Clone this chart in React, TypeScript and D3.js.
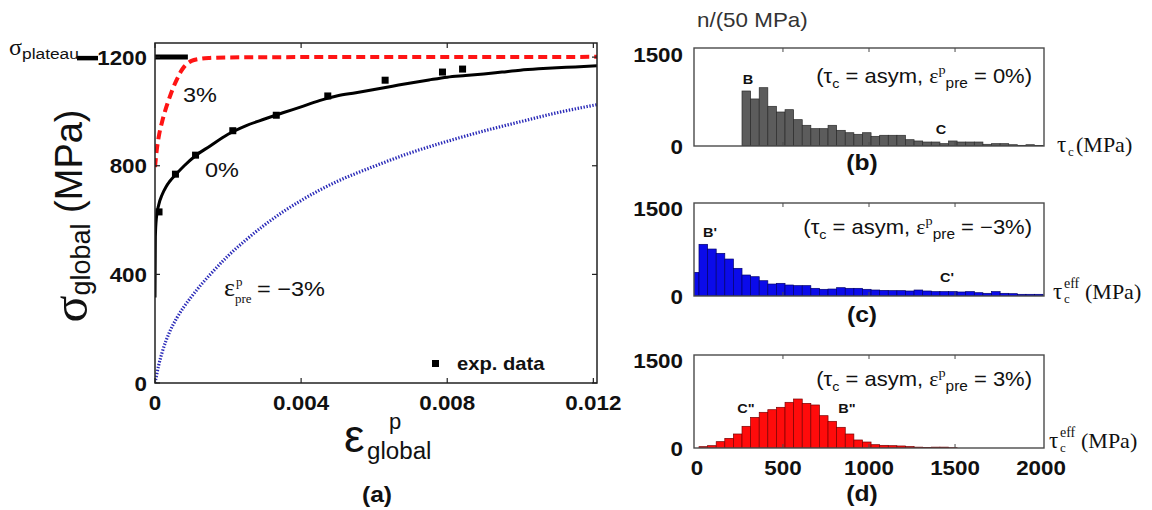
import React from 'react';
import * as d3 from 'd3';

// ---------------- Data: panel (a) ----------------
// stress-strain curves [plastic strain, stress in MPa]
const curvePre0: [number, number][] = [
  [0, 315], [0.00001, 540], [0.00004, 610], [0.0001, 655], [0.0002, 695], [0.0003, 722],
  [0.0004, 742], [0.0006, 772], [0.0008, 800], [0.0011, 836], [0.0015, 872], [0.002, 916],
  [0.0025, 948], [0.003, 972], [0.0035, 995], [0.004, 1017], [0.0045, 1040], [0.005, 1058],
  [0.0055, 1069], [0.006, 1081], [0.0065, 1093], [0.007, 1105], [0.0075, 1116], [0.008, 1126],
  [0.0085, 1132], [0.009, 1138], [0.0095, 1145], [0.01, 1152], [0.0105, 1157], [0.011, 1161],
  [0.0115, 1164], [0.0121, 1168],
];
const curvePrePlus3: [number, number][] = [
  [0, 795], [0.00005, 860], [0.0001, 905], [0.0002, 965], [0.0003, 1012], [0.0004, 1052],
  [0.0005, 1088], [0.0006, 1118], [0.0007, 1145], [0.0008, 1165], [0.0009, 1178], [0.001, 1186],
  [0.0012, 1193], [0.0015, 1197], [0.002, 1199], [0.004, 1200], [0.008, 1200], [0.0121, 1201],
];
const curvePreMinus3: [number, number][] = [
  [0, 0], [0.0001, 65], [0.0002, 115], [0.0004, 188], [0.0006, 240], [0.0008, 282], [0.001, 318],
  [0.0012, 352], [0.0015, 398], [0.002, 468], [0.0025, 528], [0.003, 582], [0.0035, 630],
  [0.004, 672], [0.0045, 710], [0.005, 743], [0.006, 798], [0.007, 848], [0.008, 890],
  [0.009, 928], [0.01, 962], [0.011, 995], [0.0121, 1025],
];
const plateauSegment: [number, number][] = [[0, 1200], [0.0009, 1200]];
const expData: [number, number][] = [
  [0.00011, 630], [0.00056, 769], [0.00111, 839], [0.00213, 929], [0.00332, 986],
  [0.00473, 1057], [0.0063, 1115], [0.00787, 1145], [0.00842, 1156],
];
const aXTicks = [0, 0.004, 0.008, 0.012];
const aXTickLabels = ['0', '0.004', '0.008', '0.012'];
const aYTicks = [0, 400, 800, 1200];

// ---------------- Data: histograms (b)-(d) ----------------
const BIN_WIDTH = 50; // MPa
const histBFirstEdge = 262;
const histBCounts = [
  898, 768, 952, 648, 555, 593, 430, 338, 283, 283, 338, 256, 217, 191, 217, 158, 175, 175,
  175, 103, 82, 65, 65, 38, 82, 65, 65, 65, 28, 38, 38, 21, 11, 21, 8,
];
const histCFirstEdge = -38;
const histCCounts = [
  407, 889, 808, 734, 636, 476, 361, 332, 263, 206, 218, 189, 178, 178, 132, 115, 120, 143,
  132, 132, 115, 103, 97, 92, 92, 86, 103, 86, 75, 75, 75, 69, 75, 57, 46, 75, 46, 40, 29, 29, 29,
];
const histDFirstEdge = 12;
const histDCounts = [
  23, 40, 109, 166, 241, 373, 527, 614, 659, 700, 786, 843, 768, 740, 556, 459, 356, 241, 138,
  103, 57, 46, 40, 35, 25, 15, 10, 15, 15, 5,
];
const hXTicks = [0, 500, 1000, 1500, 2000];
const hYTicks = [0, 1500];

// ---------------- Layout / style ----------------
const SANS = "'Liberation Sans', Arial, Helvetica, sans-serif";
const SERIF = "'Liberation Serif', 'Times New Roman', serif";
const INK = '#111';

const A = { left: 155, right: 597, top: 43, bottom: 383 };
const xA = d3.scaleLinear().domain([0, 0.0121]).range([A.left, A.right]);
const yA = d3.scaleLinear().domain([0, 1252]).range([A.bottom, A.top]);

const H_LEFT = 694, H_RIGHT = 1044;
const xH = d3.scaleLinear().domain([-17, 2017]).range([H_LEFT, H_RIGHT]);

type Panel = {
  id: string; top: number; bottom: number; counts: number[]; firstEdge: number;
  fill: string; stroke: string; tag: string; tagY: number;
};
const panels: Panel[] = [
  { id: 'b', top: 48, bottom: 146, counts: histBCounts, firstEdge: histBFirstEdge, fill: '#5c5c5c', stroke: '#2b2b2b', tag: '(b)', tagY: 170 },
  { id: 'c', top: 203, bottom: 296, counts: histCCounts, firstEdge: histCFirstEdge, fill: '#0b0bea', stroke: '#00006e', tag: '(c)', tagY: 322 },
  { id: 'd', top: 355, bottom: 448, counts: histDCounts, firstEdge: histDFirstEdge, fill: '#ff0b0b', stroke: '#7a0000', tag: '(d)', tagY: 501 },
];

function T(props: {
  x: number; y: number; size: number; bold?: boolean; anchor?: string; family?: string;
  fill?: string; sx?: number; children: React.ReactNode;
}) {
  const { x, y, size, bold, anchor = 'start', family = SANS, fill = INK, sx = 1.12, children } = props;
  return (
    <text transform={`translate(${x},${y}) scale(${sx},1)`} fontSize={size}
      fontWeight={bold ? 'bold' : 'normal'} textAnchor={anchor} fontFamily={family} fill={fill}>
      {children}
    </text>
  );
}

function PanelA() {
  const line = d3.line<[number, number]>().x(d => xA(d[0])).y(d => yA(d[1])).curve(d3.curveMonotoneX);
  const tl = 5;
  return (
    <g>
      <defs>
        <clipPath id="clipA">
          <rect x={A.left} y={A.top - 3} width={A.right - A.left} height={A.bottom - A.top + 3} />
        </clipPath>
      </defs>
      <g clipPath="url(#clipA)">
        <path d={line(curvePreMinus3) || ''} fill="none" stroke="#2a2ab8" strokeWidth={3.2} strokeDasharray="1.4 1.6" />
        <path d={line(curvePrePlus3) || ''} fill="none" stroke="#ff1414" strokeWidth={4} strokeDasharray="9 5" />
        <path d={line(curvePre0) || ''} fill="none" stroke="#000" strokeWidth={3} />
        <path d={line(plateauSegment) || ''} fill="none" stroke="#000" strokeWidth={5} />
        {expData.map((d, i) => (
          <rect key={i} x={xA(d[0]) - 3.5} y={yA(d[1]) - 3.5} width={7} height={7} fill="#000" />
        ))}
      </g>
      <rect x={A.left} y={A.top} width={A.right - A.left} height={A.bottom - A.top} fill="none" stroke="#222" strokeWidth={1.5} />
      {aXTicks.map((t, i) => (
        <g key={'xt' + i}>
          <line x1={xA(t)} x2={xA(t)} y1={A.bottom} y2={A.bottom - tl} stroke="#222" strokeWidth={1.2} />
          <line x1={xA(t)} x2={xA(t)} y1={A.top} y2={A.top + tl} stroke="#222" strokeWidth={1.2} />
          <T x={xA(t)} y={410} size={20} bold anchor="middle">{aXTickLabels[i]}</T>
        </g>
      ))}
      {aYTicks.map((t, i) => (
        <g key={'yt' + i}>
          <line x1={A.left} x2={A.left + tl} y1={yA(t)} y2={yA(t)} stroke="#222" strokeWidth={1.2} />
          <line x1={A.right} x2={A.right - tl} y1={yA(t)} y2={yA(t)} stroke="#222" strokeWidth={1.2} />
          <T x={147} y={yA(t) + 7.5} size={20} bold anchor="end">{String(t)}</T>
        </g>
      ))}
      {/* sigma plateau marker */}
      <line x1={77} x2={98} y1={yA(1200) + 1} y2={yA(1200) + 1} stroke="#000" strokeWidth={4.5} />
      <T x={9} y={55} size={24} family={SERIF} sx={1}>σ</T>
      <T x={22} y={59} size={15.5}>plateau</T>
      {/* curve labels */}
      <T x={183} y={102} size={21}>3%</T>
      <T x={205} y={177} size={21}>0%</T>
      <T x={224} y={296} size={26} family={SERIF} sx={1}>ε</T>
      <T x={236} y={286} size={13} family={SERIF} sx={1}>p</T>
      <T x={235} y={303} size={13} family={SERIF} sx={1}>pre</T>
      <T x={257} y={296} size={21}>= −3%</T>
      {/* legend */}
      <rect x={432} y={360} width={7} height={7} fill="#000" />
      <T x={457} y={370} size={18} bold>exp. data</T>
      {/* axis titles */}
      <T x={344} y={452} size={46} sx={1}>ε</T>
      <T x={389} y={429} size={22} sx={1}>p</T>
      <T x={367} y={459} size={23} sx={1.05}>global</T>
      <T x={377} y={502} size={22} bold anchor="middle">(a)</T>
      <g transform="translate(82,216) rotate(-90)">
        <text textAnchor="middle" fontFamily={SANS} fill={INK}>
          <tspan fontSize={50} fontFamily={SERIF} dy={5}>σ</tspan>
          <tspan fontSize={27} dy={3}>global</tspan>
          <tspan fontSize={38} dy={-8}> (MPa)</tspan>
        </text>
      </g>
    </g>
  );
}

function Histogram({ p }: { p: Panel }) {
  const yH = d3.scaleLinear().domain([0, 1600]).range([p.bottom, p.top]);
  const clipId = 'clip' + p.id;
  const tl = 4;
  return (
    <g>
      <defs>
        <clipPath id={clipId}>
          <rect x={H_LEFT} y={p.top} width={H_RIGHT - H_LEFT} height={p.bottom - p.top} />
        </clipPath>
      </defs>
      <g clipPath={`url(#${clipId})`}>
        {p.counts.map((c, i) => {
          const x0 = p.firstEdge + i * BIN_WIDTH;
          return (
            <rect key={i} x={xH(x0)} y={yH(c)} width={xH(x0 + BIN_WIDTH) - xH(x0)} height={yH(0) - yH(c)}
              fill={p.fill} stroke={p.stroke} strokeWidth={0.7} />
          );
        })}
      </g>
      <rect x={H_LEFT} y={p.top} width={H_RIGHT - H_LEFT} height={p.bottom - p.top} fill="none" stroke="#4a4a4a" strokeWidth={1.4} />
      {hXTicks.slice(1, 4).map((t, i) => (
        <g key={'t' + i}>
          <line x1={xH(t)} x2={xH(t)} y1={p.top} y2={p.top + tl} stroke="#4a4a4a" strokeWidth={1} />
          <line x1={xH(t)} x2={xH(t)} y1={p.bottom} y2={p.bottom - tl} stroke="#4a4a4a" strokeWidth={1} />
        </g>
      ))}
      {hYTicks.map((t, i) => (
        <T key={'y' + i} x={683} y={yH(t) + 7.5} size={20} bold anchor="end">{String(t)}</T>
      ))}
      {p.id === 'd' && hXTicks.map((t, i) => (
        <T key={'x' + i} x={xH(t)} y={475} size={20} bold anchor="middle">{String(t)}</T>
      ))}
      <T x={862} y={p.tagY} size={22} bold anchor="middle">{p.tag}</T>
    </g>
  );
}

function Annotation({ y, value }: { y: number; value: string }) {
  return (
    <g transform={`translate(1032,${y}) scale(1.1,1)`}>
      <text textAnchor="end" fontFamily={SANS} fontSize={20} fill={INK}>
        <tspan>(τ</tspan>
        <tspan fontSize={13} dy={5}>c</tspan>
        <tspan dy={-5}> = asym, </tspan>
        <tspan fontFamily={SERIF}>ε</tspan>
        <tspan fontSize={13} fontFamily={SERIF} dy={-9}>p</tspan>
        <tspan fontSize={14} dy={14}>pre</tspan>
        <tspan dy={-5}>{` = ${value})`}</tspan>
      </text>
    </g>
  );
}

function TauLabel({ x, y, eff }: { x: number; y: number; eff: boolean }) {
  return (
    <g>
      <T x={x} y={y} size={23} family={SERIF} sx={1}>τ</T>
      {eff && <T x={x + 11} y={y - 11} size={14} family={SERIF} sx={1}>eff</T>}
      <T x={x + 11} y={y + 4} size={13} family={SERIF} sx={1}>c</T>
      <T x={eff ? x + 32 : x + 19} y={y} size={22} family={SERIF} sx={1}>(MPa)</T>
    </g>
  );
}

export default function App() {
  return (
    <svg width={1152} height={510} style={{ position: 'absolute', left: 0, top: 0, background: '#fff' }}
      xmlns="http://www.w3.org/2000/svg">
      <rect x={0} y={0} width={1152} height={510} fill="#fff" />
      <PanelA />
      <T x={697} y={27} size={20} fill="#333">n/(50 MPa)</T>
      {panels.map(p => <Histogram key={p.id} p={p} />)}
      <Annotation y={83} value="0%" />
      <Annotation y={234} value="−3%" />
      <Annotation y={386} value="3%" />
      <T x={748} y={84} size={13} bold anchor="middle">B</T>
      <T x={941} y={134} size={13} bold anchor="middle">C</T>
      <T x={710} y={237} size={13} bold anchor="middle">B'</T>
      <T x={947} y={282} size={13} bold anchor="middle">C'</T>
      <T x={746} y={413} size={13} bold anchor="middle">C"</T>
      <T x={847} y={413} size={13} bold anchor="middle">B"</T>
      <TauLabel x={1057} y={152} eff={false} />
      <TauLabel x={1053} y={299} eff={true} />
      <TauLabel x={1049} y={448} eff={true} />
    </svg>
  );
}
